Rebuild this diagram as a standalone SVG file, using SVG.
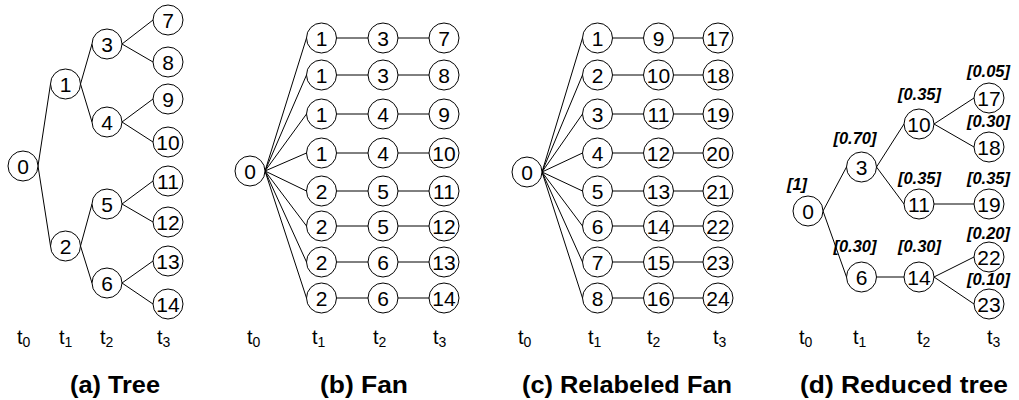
<svg xmlns="http://www.w3.org/2000/svg" width="1019" height="400" viewBox="0 0 1019 400">
  <style>
    .bg { fill: #ffffff; }
    .edge { stroke: #000; stroke-width: 1; fill: none; }
    .node circle { fill: #fff; stroke: #000; stroke-width: 1; }
    .node text { font-family: "Liberation Sans", Arial, sans-serif; font-size: 21px; text-anchor: middle; fill: #000; }
    .tlab { font-family: "Liberation Sans", Arial, sans-serif; font-size: 20px; fill: #000; }
    .tlab tspan { font-size: 14px; }
    .prob { font-family: "Liberation Sans", Arial, sans-serif; font-size: 16.5px; font-weight: bold; font-style: italic; text-anchor: middle; fill: #000; }
    .title { font-family: "Liberation Sans", Arial, sans-serif; font-size: 23px; font-weight: bold; fill: #000; }
  </style>
  <rect class="bg" x="0" y="0" width="1019" height="400"/>

  <!-- connectors -->
  <g id="connectors" class="edge">
    <!-- (a) tree -->
    <line x1="38" y1="166" x2="50.5" y2="84"/>
    <line x1="38" y1="166" x2="50.5" y2="246"/>
    <line x1="80.5" y1="84" x2="92" y2="44"/>
    <line x1="80.5" y1="84" x2="92" y2="122"/>
    <line x1="80.5" y1="246" x2="92" y2="204"/>
    <line x1="80.5" y1="246" x2="92" y2="283"/>
    <line x1="122" y1="44" x2="153" y2="20"/>
    <line x1="122" y1="44" x2="153" y2="62"/>
    <line x1="122" y1="122" x2="153" y2="99"/>
    <line x1="122" y1="122" x2="153" y2="142"/>
    <line x1="122" y1="204" x2="153" y2="181"/>
    <line x1="122" y1="204" x2="153" y2="222"/>
    <line x1="122" y1="283" x2="153" y2="261"/>
    <line x1="122" y1="283" x2="153" y2="304"/>

    <!-- (b) fan -->
    <line x1="265" y1="171" x2="306.5" y2="38"/>
    <line x1="265" y1="171" x2="306.5" y2="75"/>
    <line x1="265" y1="171" x2="306.5" y2="114"/>
    <line x1="265" y1="171" x2="306.5" y2="153"/>
    <line x1="265" y1="171" x2="306.5" y2="191"/>
    <line x1="265" y1="171" x2="306.5" y2="226"/>
    <line x1="265" y1="171" x2="306.5" y2="262"/>
    <line x1="265" y1="171" x2="306.5" y2="298"/>
    <line x1="336.5" y1="38" x2="368" y2="38"/>
    <line x1="336.5" y1="75" x2="368" y2="75"/>
    <line x1="336.5" y1="114" x2="368" y2="114"/>
    <line x1="336.5" y1="153" x2="368" y2="153"/>
    <line x1="336.5" y1="191" x2="368" y2="191"/>
    <line x1="336.5" y1="226" x2="368" y2="226"/>
    <line x1="336.5" y1="262" x2="368" y2="262"/>
    <line x1="336.5" y1="298" x2="368" y2="298"/>
    <line x1="398" y1="38" x2="429" y2="38"/>
    <line x1="398" y1="75" x2="429" y2="75"/>
    <line x1="398" y1="114" x2="429" y2="114"/>
    <line x1="398" y1="153" x2="429" y2="153"/>
    <line x1="398" y1="191" x2="429" y2="191"/>
    <line x1="398" y1="226" x2="429" y2="226"/>
    <line x1="398" y1="262" x2="429" y2="262"/>
    <line x1="398" y1="298" x2="429" y2="298"/>

    <!-- (c) relabeled fan -->
    <line x1="542" y1="172" x2="582.5" y2="38"/>
    <line x1="542" y1="172" x2="582.5" y2="75"/>
    <line x1="542" y1="172" x2="582.5" y2="114"/>
    <line x1="542" y1="172" x2="582.5" y2="153"/>
    <line x1="542" y1="172" x2="582.5" y2="191"/>
    <line x1="542" y1="172" x2="582.5" y2="226"/>
    <line x1="542" y1="172" x2="582.5" y2="262"/>
    <line x1="542" y1="172" x2="582.5" y2="298"/>
    <line x1="612.5" y1="38" x2="643.5" y2="38"/>
    <line x1="612.5" y1="75" x2="643.5" y2="75"/>
    <line x1="612.5" y1="114" x2="643.5" y2="114"/>
    <line x1="612.5" y1="153" x2="643.5" y2="153"/>
    <line x1="612.5" y1="191" x2="643.5" y2="191"/>
    <line x1="612.5" y1="226" x2="643.5" y2="226"/>
    <line x1="612.5" y1="262" x2="643.5" y2="262"/>
    <line x1="612.5" y1="298" x2="643.5" y2="298"/>
    <line x1="673.5" y1="38" x2="703" y2="38"/>
    <line x1="673.5" y1="75" x2="703" y2="75"/>
    <line x1="673.5" y1="114" x2="703" y2="114"/>
    <line x1="673.5" y1="153" x2="703" y2="153"/>
    <line x1="673.5" y1="191" x2="703" y2="191"/>
    <line x1="673.5" y1="226" x2="703" y2="226"/>
    <line x1="673.5" y1="262" x2="703" y2="262"/>
    <line x1="673.5" y1="298" x2="703" y2="298"/>

    <!-- (d) reduced tree -->
    <line x1="823" y1="211" x2="846.5" y2="167"/>
    <line x1="823" y1="211" x2="846.5" y2="277"/>
    <line x1="876.5" y1="167" x2="904" y2="124"/>
    <line x1="876.5" y1="167" x2="904" y2="204"/>
    <line x1="934" y1="124" x2="974" y2="98"/>
    <line x1="934" y1="124" x2="974" y2="147"/>
    <line x1="934" y1="204" x2="974" y2="204"/>
    <line x1="876.5" y1="277" x2="904" y2="277"/>
    <line x1="934" y1="277" x2="974" y2="257"/>
    <line x1="934" y1="277" x2="974" y2="304"/>
  </g>

  <!-- (a) tree nodes -->
  <g id="a-n0" class="node" transform="translate(23,166)"><circle r="15"/><text y="7.5">0</text></g>
  <g id="a-n1" class="node" transform="translate(65.5,84)"><circle r="15"/><text y="7.5">1</text></g>
  <g id="a-n2" class="node" transform="translate(65.5,246)"><circle r="15"/><text y="7.5">2</text></g>
  <g id="a-n3" class="node" transform="translate(107,44)"><circle r="15"/><text y="7.5">3</text></g>
  <g id="a-n4" class="node" transform="translate(107,122)"><circle r="15"/><text y="7.5">4</text></g>
  <g id="a-n5" class="node" transform="translate(107,204)"><circle r="15"/><text y="7.5">5</text></g>
  <g id="a-n6" class="node" transform="translate(107,283)"><circle r="15"/><text y="7.5">6</text></g>
  <g id="a-n7" class="node" transform="translate(168,20)"><circle r="15"/><text y="7.5">7</text></g>
  <g id="a-n8" class="node" transform="translate(168,62)"><circle r="15"/><text y="7.5">8</text></g>
  <g id="a-n9" class="node" transform="translate(168,99)"><circle r="15"/><text y="7.5">9</text></g>
  <g id="a-n10" class="node" transform="translate(168,142)"><circle r="15"/><text y="7.5">10</text></g>
  <g id="a-n11" class="node" transform="translate(168,181)"><circle r="15"/><text y="7.5">11</text></g>
  <g id="a-n12" class="node" transform="translate(168,222)"><circle r="15"/><text y="7.5">12</text></g>
  <g id="a-n13" class="node" transform="translate(168,261)"><circle r="15"/><text y="7.5">13</text></g>
  <g id="a-n14" class="node" transform="translate(168,304)"><circle r="15"/><text y="7.5">14</text></g>

  <!-- (b) fan nodes -->
  <g id="b-n0" class="node" transform="translate(250,171)"><circle r="15"/><text y="7.5">0</text></g>
  <g id="b-r1a" class="node" transform="translate(321.5,38)"><circle r="15"/><text y="7.5">1</text></g>
  <g id="b-r2a" class="node" transform="translate(321.5,75)"><circle r="15"/><text y="7.5">1</text></g>
  <g id="b-r3a" class="node" transform="translate(321.5,114)"><circle r="15"/><text y="7.5">1</text></g>
  <g id="b-r4a" class="node" transform="translate(321.5,153)"><circle r="15"/><text y="7.5">1</text></g>
  <g id="b-r5a" class="node" transform="translate(321.5,191)"><circle r="15"/><text y="7.5">2</text></g>
  <g id="b-r6a" class="node" transform="translate(321.5,226)"><circle r="15"/><text y="7.5">2</text></g>
  <g id="b-r7a" class="node" transform="translate(321.5,262)"><circle r="15"/><text y="7.5">2</text></g>
  <g id="b-r8a" class="node" transform="translate(321.5,298)"><circle r="15"/><text y="7.5">2</text></g>
  <g id="b-r1b" class="node" transform="translate(383,38)"><circle r="15"/><text y="7.5">3</text></g>
  <g id="b-r2b" class="node" transform="translate(383,75)"><circle r="15"/><text y="7.5">3</text></g>
  <g id="b-r3b" class="node" transform="translate(383,114)"><circle r="15"/><text y="7.5">4</text></g>
  <g id="b-r4b" class="node" transform="translate(383,153)"><circle r="15"/><text y="7.5">4</text></g>
  <g id="b-r5b" class="node" transform="translate(383,191)"><circle r="15"/><text y="7.5">5</text></g>
  <g id="b-r6b" class="node" transform="translate(383,226)"><circle r="15"/><text y="7.5">5</text></g>
  <g id="b-r7b" class="node" transform="translate(383,262)"><circle r="15"/><text y="7.5">6</text></g>
  <g id="b-r8b" class="node" transform="translate(383,298)"><circle r="15"/><text y="7.5">6</text></g>
  <g id="b-r1c" class="node" transform="translate(444,38)"><circle r="15"/><text y="7.5">7</text></g>
  <g id="b-r2c" class="node" transform="translate(444,75)"><circle r="15"/><text y="7.5">8</text></g>
  <g id="b-r3c" class="node" transform="translate(444,114)"><circle r="15"/><text y="7.5">9</text></g>
  <g id="b-r4c" class="node" transform="translate(444,153)"><circle r="15"/><text y="7.5">10</text></g>
  <g id="b-r5c" class="node" transform="translate(444,191)"><circle r="15"/><text y="7.5">11</text></g>
  <g id="b-r6c" class="node" transform="translate(444,226)"><circle r="15"/><text y="7.5">12</text></g>
  <g id="b-r7c" class="node" transform="translate(444,262)"><circle r="15"/><text y="7.5">13</text></g>
  <g id="b-r8c" class="node" transform="translate(444,298)"><circle r="15"/><text y="7.5">14</text></g>

  <!-- (c) relabeled fan nodes -->
  <g id="c-n0" class="node" transform="translate(527,172)"><circle r="15"/><text y="7.5">0</text></g>
  <g id="c-n1" class="node" transform="translate(597.5,38)"><circle r="15"/><text y="7.5">1</text></g>
  <g id="c-n2" class="node" transform="translate(597.5,75)"><circle r="15"/><text y="7.5">2</text></g>
  <g id="c-n3" class="node" transform="translate(597.5,114)"><circle r="15"/><text y="7.5">3</text></g>
  <g id="c-n4" class="node" transform="translate(597.5,153)"><circle r="15"/><text y="7.5">4</text></g>
  <g id="c-n5" class="node" transform="translate(597.5,191)"><circle r="15"/><text y="7.5">5</text></g>
  <g id="c-n6" class="node" transform="translate(597.5,226)"><circle r="15"/><text y="7.5">6</text></g>
  <g id="c-n7" class="node" transform="translate(597.5,262)"><circle r="15"/><text y="7.5">7</text></g>
  <g id="c-n8" class="node" transform="translate(597.5,298)"><circle r="15"/><text y="7.5">8</text></g>
  <g id="c-n9" class="node" transform="translate(658.5,38)"><circle r="15"/><text y="7.5">9</text></g>
  <g id="c-n10" class="node" transform="translate(658.5,75)"><circle r="15"/><text y="7.5">10</text></g>
  <g id="c-n11" class="node" transform="translate(658.5,114)"><circle r="15"/><text y="7.5">11</text></g>
  <g id="c-n12" class="node" transform="translate(658.5,153)"><circle r="15"/><text y="7.5">12</text></g>
  <g id="c-n13" class="node" transform="translate(658.5,191)"><circle r="15"/><text y="7.5">13</text></g>
  <g id="c-n14" class="node" transform="translate(658.5,226)"><circle r="15"/><text y="7.5">14</text></g>
  <g id="c-n15" class="node" transform="translate(658.5,262)"><circle r="15"/><text y="7.5">15</text></g>
  <g id="c-n16" class="node" transform="translate(658.5,298)"><circle r="15"/><text y="7.5">16</text></g>
  <g id="c-n17" class="node" transform="translate(718,38)"><circle r="15"/><text y="7.5">17</text></g>
  <g id="c-n18" class="node" transform="translate(718,75)"><circle r="15"/><text y="7.5">18</text></g>
  <g id="c-n19" class="node" transform="translate(718,114)"><circle r="15"/><text y="7.5">19</text></g>
  <g id="c-n20" class="node" transform="translate(718,153)"><circle r="15"/><text y="7.5">20</text></g>
  <g id="c-n21" class="node" transform="translate(718,191)"><circle r="15"/><text y="7.5">21</text></g>
  <g id="c-n22" class="node" transform="translate(718,226)"><circle r="15"/><text y="7.5">22</text></g>
  <g id="c-n23" class="node" transform="translate(718,262)"><circle r="15"/><text y="7.5">23</text></g>
  <g id="c-n24" class="node" transform="translate(718,298)"><circle r="15"/><text y="7.5">24</text></g>

  <!-- (d) reduced tree nodes with probabilities -->
  <g id="d-n0" class="node" transform="translate(808,211)"><circle r="15"/><text y="7.5">0</text></g>
  <g id="d-n3" class="node" transform="translate(861.5,167)"><circle r="15"/><text y="7.5">3</text></g>
  <g id="d-n6" class="node" transform="translate(861.5,277)"><circle r="15"/><text y="7.5">6</text></g>
  <g id="d-n10" class="node" transform="translate(919,124)"><circle r="15"/><text y="7.5">10</text></g>
  <g id="d-n11" class="node" transform="translate(919,204)"><circle r="15"/><text y="7.5">11</text></g>
  <g id="d-n14" class="node" transform="translate(919,277)"><circle r="15"/><text y="7.5">14</text></g>
  <g id="d-n17" class="node" transform="translate(989,98)"><circle r="15"/><text y="7.5">17</text></g>
  <g id="d-n18" class="node" transform="translate(989,147)"><circle r="15"/><text y="7.5">18</text></g>
  <g id="d-n19" class="node" transform="translate(989,204)"><circle r="15"/><text y="7.5">19</text></g>
  <g id="d-n22" class="node" transform="translate(989,257)"><circle r="15"/><text y="7.5">22</text></g>
  <g id="d-n23" class="node" transform="translate(989,304)"><circle r="15"/><text y="7.5">23</text></g>

  <g id="d-probs">
    <text class="prob" x="797" y="190">[1]</text>
    <text class="prob" x="855" y="144">[0.70]</text>
    <text class="prob" x="919.5" y="100">[0.35]</text>
    <text class="prob" x="988.5" y="77">[0.05]</text>
    <text class="prob" x="988.5" y="127">[0.30]</text>
    <text class="prob" x="919.5" y="184">[0.35]</text>
    <text class="prob" x="988.5" y="184">[0.35]</text>
    <text class="prob" x="855" y="252">[0.30]</text>
    <text class="prob" x="919.5" y="252">[0.30]</text>
    <text class="prob" x="988.5" y="239">[0.20]</text>
    <text class="prob" x="988.5" y="285">[0.10]</text>
  </g>

  <!-- stage axis labels -->
  <g id="stages">
    <text class="tlab" x="17" y="344">t<tspan dy="3">0</tspan></text>
    <text class="tlab" x="59" y="344">t<tspan dy="3">1</tspan></text>
    <text class="tlab" x="100" y="344">t<tspan dy="3">2</tspan></text>
    <text class="tlab" x="157" y="344">t<tspan dy="3">3</tspan></text>

    <text class="tlab" x="247" y="344">t<tspan dy="3">0</tspan></text>
    <text class="tlab" x="312" y="344">t<tspan dy="3">1</tspan></text>
    <text class="tlab" x="373" y="344">t<tspan dy="3">2</tspan></text>
    <text class="tlab" x="433" y="344">t<tspan dy="3">3</tspan></text>

    <text class="tlab" x="518" y="344">t<tspan dy="3">0</tspan></text>
    <text class="tlab" x="588" y="344">t<tspan dy="3">1</tspan></text>
    <text class="tlab" x="647" y="344">t<tspan dy="3">2</tspan></text>
    <text class="tlab" x="713" y="344">t<tspan dy="3">3</tspan></text>

    <text class="tlab" x="799" y="344">t<tspan dy="3">0</tspan></text>
    <text class="tlab" x="853" y="344">t<tspan dy="3">1</tspan></text>
    <text class="tlab" x="917" y="344">t<tspan dy="3">2</tspan></text>
    <text class="tlab" x="987" y="344">t<tspan dy="3">3</tspan></text>
  </g>

  <!-- panel captions -->
  <g id="captions">
    <text class="title" x="70" y="393" textLength="90" lengthAdjust="spacingAndGlyphs">(a) Tree</text>
    <text class="title" x="320" y="393" textLength="88" lengthAdjust="spacingAndGlyphs">(b) Fan</text>
    <text class="title" x="522" y="393" textLength="210" lengthAdjust="spacingAndGlyphs">(c) Relabeled Fan</text>
    <text class="title" x="800" y="393" textLength="208" lengthAdjust="spacingAndGlyphs">(d) Reduced tree</text>
  </g>
</svg>
